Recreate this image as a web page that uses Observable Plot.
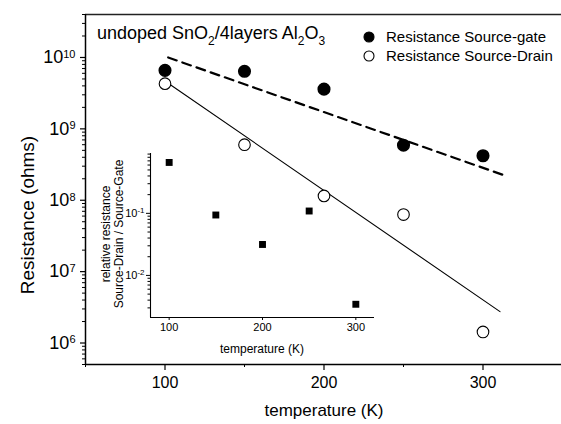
<!DOCTYPE html>
<html><head><meta charset="utf-8">
<script src="https://cdn.jsdelivr.net/npm/d3@7"></script>
<script src="https://cdn.jsdelivr.net/npm/@observablehq/plot@0.6"></script>
<style>
body{margin:0;background:#fff;}
#wrap{position:relative;width:561px;height:424px;font-family:"Liberation Sans",Arial,sans-serif;}
#wrap svg{position:absolute;overflow:visible;}
</style></head><body><div id="wrap"></div>
<script>
// ---- main chart data ----
const temps = [100, 150, 200, 250, 300];
const sourceGate = [6.6e9, 6.4e9, 3.6e9, 5.9e8, 4.2e8];
const sourceDrain = [4.3e9, 6.0e8, 1.15e8, 6.3e7, 1.43e6];
const fitGateT = [102, 313];
const fitGate = [1.0e10, 2.25e8];
const fitDrainT = [103.6, 310.7];
const fitDrain = [4.12e9, 2.75e6];
const xMajor = [100, 200, 300];
const xMinor = [50, 150, 250, 350];
const yMajor = [1e6, 1e7, 1e8, 1e9, 1e10];
// ---- inset data ----
const insetTemps = [100, 150, 200, 250, 300];
const ratio = [0.66, 0.094, 0.0315, 0.109, 0.00343];
const insetXMajor = [100, 200, 300];
const insetYMajor = [1e-2, 1e-1];
// ---- texts ----
const legendLabels = ["Resistance Source-gate", "Resistance Source-Drain"];

const FONT = '"Liberation Sans", Arial, sans-serif';
const logMinor = (lo, hi, e0, e1) => {
  const out = [];
  for (let e = e0; e <= e1; e++) for (let m = 2; m <= 9; m++) {
    const v = m * Math.pow(10, e);
    if (v >= lo && v <= hi) out.push(v);
  }
  return out;
};
const yDomain = [5e5, 4e10];
const yMinor = logMinor(yDomain[0], yDomain[1], 5, 10);
const expFmt = d => "10^" + Math.round(Math.log10(d));

const main = Plot.plot({
  width: 561, height: 424,
  marginLeft: 85, marginRight: -1, marginTop: 14, marginBottom: 60,
  x: {domain: [50, 350]},
  y: {type: "log", domain: yDomain},
  style: {fontFamily: FONT, fontSize: "16px", color: "#000", background: "transparent"},
  marks: [
    Plot.ruleY([yDomain[1]], {stroke: "#222", strokeWidth: 1.5}),
    Plot.ruleY([yDomain[0]], {stroke: "#000", strokeWidth: 1.5}),
    Plot.ruleX([50], {stroke: "#000", strokeWidth: 1.5}),
    Plot.axisX({ticks: xMajor, tickSize: 6, tickPadding: 6, label: null, fontSize: 16, strokeWidth: 1.2}),
    Plot.axisX({ticks: xMinor, tickSize: 3, tickFormat: () => "", label: null}),
    Plot.axisY({ticks: yMajor, tickSize: 5, tickPadding: 5, tickFormat: expFmt, label: null, fontSize: 18, strokeWidth: 1.2}),
    Plot.axisY({ticks: yMinor, tickSize: 3, tickFormat: () => "", label: null}),
    Plot.line(fitGate, {x: fitGateT, y: fitGate, stroke: "#000", strokeWidth: 2.2, strokeDasharray: "9,6"}),
    Plot.line(fitDrain, {x: fitDrainT, y: fitDrain, stroke: "#000", strokeWidth: 1.1}),
    Plot.dot(sourceDrain, {x: temps, y: sourceDrain, r: 5.8, fill: "#fff", stroke: "#000", strokeWidth: 1.1}),
    Plot.dot(sourceGate, {x: temps, y: sourceGate, r: 5.8, fill: "#000", stroke: "#000"})
  ]
});
main.style.left = "0px"; main.style.top = "0px";
document.getElementById("wrap").appendChild(main);

function superscriptTicks(svg, supSize, dy) {
  d3.select(svg).selectAll('g[aria-label="y-axis tick label"] text').each(function () {
    const s = this.textContent;
    if (!s.includes("^")) return;
    const [b, e] = s.split("^");
    this.textContent = "";
    d3.select(this).append("tspan").text(b);
    d3.select(this).append("tspan").attr("dy", dy).attr("font-size", supSize).text(e);
  });
}
superscriptTicks(main, "11px", "-0.5em");

const ms = d3.select(main);
// axis titles
ms.append("text").attr("x", 324).attr("y", 416).attr("text-anchor", "middle")
  .attr("font-size", 17).attr("fill", "#000").text("temperature (K)");
ms.append("text").attr("transform", "translate(27,215) rotate(-90)").attr("text-anchor", "middle")
  .attr("dy", "0.35em").attr("font-size", 19).attr("fill", "#000").text("Resistance (ohms)");
// sample annotation with subscripts
const ann = ms.append("text").attr("x", 97).attr("y", 39).attr("text-anchor", "start")
  .attr("font-size", 18).attr("fill", "#000");
const parts = [["undoped SnO", 0], ["2", 1], ["/4layers Al", 0], ["2", 1], ["O", 0], ["3", 1]];
let sub = false;
parts.forEach(([t, s]) => {
  const ts = ann.append("tspan").text(t);
  if (s && !sub) { ts.attr("dy", 6).attr("font-size", 12); sub = true; }
  else if (!s && sub) { ts.attr("dy", -6); sub = false; }
  else if (s) ts.attr("font-size", 12);
});
// legend
const legY = [37, 56];
legendLabels.forEach((lab, i) => {
  ms.append("circle").attr("cx", 369).attr("cy", legY[i]).attr("r", 5)
    .attr("fill", i === 0 ? "#000" : "#fff").attr("stroke", "#000").attr("stroke-width", 1.1);
  ms.append("text").attr("x", 386).attr("y", legY[i]).attr("dy", "0.36em").attr("text-anchor", "start")
    .attr("font-size", 15).attr("fill", "#000").text(lab);
});

// ---- inset ----
const iyDomain = [2.1e-3, 0.92];
const iyMinor = logMinor(iyDomain[0], iyDomain[1], -3, -1);
const inset = Plot.plot({
  width: 290, height: 225,
  marginLeft: 50, marginRight: 16, marginTop: 13, marginBottom: 48,
  x: {domain: [80, 320]},
  y: {type: "log", domain: iyDomain},
  style: {fontFamily: FONT, fontSize: "11px", color: "#000", background: "transparent"},
  marks: [
    Plot.ruleY([iyDomain[0]], {stroke: "#000", strokeWidth: 1.1}),
    Plot.ruleX([80], {stroke: "#000", strokeWidth: 1.1}),
    Plot.axisX({ticks: insetXMajor, tickSize: 3, tickPadding: 3, label: null, fontSize: 11}),
    Plot.axisY({ticks: insetYMajor, tickSize: 4, tickPadding: 2, tickFormat: expFmt, label: null, fontSize: 11}),
    Plot.axisY({ticks: iyMinor, tickSize: 2.5, tickFormat: () => "", label: null}),
    Plot.dot(ratio, {x: insetTemps, y: ratio, symbol: "square", r: 3.9, fill: "#000"})
  ]
});
inset.style.left = "100px"; inset.style.top = "140px";
document.getElementById("wrap").appendChild(inset);
superscriptTicks(inset, "8px", "-0.5em");
const is = d3.select(inset);
is.append("text").attr("x", 162).attr("y", 213).attr("text-anchor", "middle")
  .attr("font-size", 12).attr("fill", "#000").text("temperature (K)");
is.append("text").attr("transform", "translate(5.5,94) rotate(-90)").attr("text-anchor", "middle")
  .attr("dy", "0.35em").attr("font-size", 12).attr("fill", "#000").text("relative resistance");
is.append("text").attr("transform", "translate(18.5,94) rotate(-90)").attr("text-anchor", "middle")
  .attr("dy", "0.35em").attr("font-size", 12).attr("fill", "#000").text("Source-Drain / Source-Gate");
</script></body></html>
